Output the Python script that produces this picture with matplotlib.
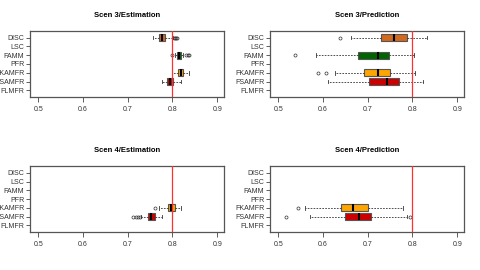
import numpy as np
import matplotlib
matplotlib.use('Agg')
from matplotlib import pyplot as plt

plt.rcParams['font.family'] = ['Liberation Sans', 'DejaVu Sans']

methods = ['DISC', 'LSC', 'FAMM', 'PFR', 'FKAMFR', 'FSAMFR', 'FLMFR']
colors = {'DISC': '#D2691E', 'FAMM': '#006400', 'FKAMFR': '#FFA500', 'FSAMFR': '#CD0000'}

# five number summaries: whislo, q1, med, q3, whishi
s3_est_groups = ['DISC', 'FAMM', 'FKAMFR', 'FSAMFR']
s3_est_stats = [[0.757, 0.770, 0.776, 0.783, 0.801],
                [0.806, 0.810, 0.815, 0.820, 0.824],
                [0.798, 0.812, 0.818, 0.824, 0.836],
                [0.776, 0.787, 0.794, 0.802, 0.820]]
s3_est_fliers = [[0.804, 0.806, 0.808, 0.810],
                 [0.798, 0.830, 0.834, 0.837],
                 [],
                 []]

s3_pred_groups = ['DISC', 'FAMM', 'FKAMFR', 'FSAMFR']
s3_pred_stats = [[0.663, 0.729, 0.759, 0.787, 0.832],
                 [0.585, 0.678, 0.723, 0.748, 0.803],
                 [0.627, 0.692, 0.722, 0.749, 0.806],
                 [0.611, 0.703, 0.742, 0.770, 0.824]]
s3_pred_fliers = [[0.637], [0.537], [0.588, 0.607], []]

s4_est_groups = ['FKAMFR', 'FSAMFR']
s4_est_stats = [[0.769, 0.790, 0.797, 0.805, 0.818],
                [0.730, 0.746, 0.752, 0.761, 0.776]]
s4_est_fliers = [[0.760], [0.712, 0.718, 0.722, 0.727]]

s4_pred_groups = ['FKAMFR', 'FSAMFR']
s4_pred_stats = [[0.560, 0.640, 0.666, 0.700, 0.778],
                 [0.570, 0.649, 0.680, 0.707, 0.787]]
s4_pred_fliers = [[0.545], [0.517, 0.795]]

panels = [('Scen 3/Estimation', s3_est_groups, s3_est_stats, s3_est_fliers),
          ('Scen 3/Prediction', s3_pred_groups, s3_pred_stats, s3_pred_fliers),
          ('Scen 4/Estimation', s4_est_groups, s4_est_stats, s4_est_fliers),
          ('Scen 4/Prediction', s4_pred_groups, s4_pred_stats, s4_pred_fliers)]

fig = plt.figure(figsize=(4.8, 2.7), dpi=100)
rects = [[0.0625, 0.641, 0.404, 0.244], [0.5625, 0.641, 0.404, 0.244],
         [0.0625, 0.1407, 0.404, 0.244], [0.5625, 0.1407, 0.404, 0.244]]

ypos = {m: len(methods) - i for i, m in enumerate(methods)}

for rect, (title, groups, stats, fliers) in zip(rects, panels):
    ax = fig.add_axes(rect)
    bxp_stats = []
    for g, s, f in zip(groups, stats, fliers):
        bxp_stats.append(dict(label=g, whislo=s[0], q1=s[1], med=s[2], q3=s[3], whishi=s[4], fliers=f))
    pos = [ypos[g] for g in groups]
    bp = ax.bxp(bxp_stats, positions=pos, vert=False, widths=0.8, patch_artist=True,
                capwidths=0.4, manage_ticks=False,
                boxprops=dict(edgecolor='#555555', linewidth=0.8),
                medianprops=dict(color='black', linewidth=1.5),
                whiskerprops=dict(color='#333333', linewidth=0.6, linestyle=(0, (2, 1.5))),
                capprops=dict(color='#333333', linewidth=0.6),
                flierprops=dict(marker='o', markersize=2.2, markerfacecolor='none',
                                markeredgecolor='#333333', markeredgewidth=0.5))
    for patch, g in zip(bp['boxes'], groups):
        patch.set_facecolor(colors[g])
    # reference line drawn over the boxes
    ax.axvline(0.8, color='#FF3030', linewidth=0.9, zorder=5)

    ax.set_xlim(0.4814, 0.915)
    ax.set_ylim(0.24, 7.76)
    ax.set_xticks([0.5, 0.6, 0.7, 0.8, 0.9])
    ax.set_xticklabels(['0.5', '0.6', '0.7', '0.8', '0.9'])
    ax.set_yticks([ypos[m] for m in methods])
    ax.set_yticklabels(methods)
    ax.tick_params(axis='x', length=3.5, width=0.6, color='#444444', labelsize=5,
                   labelcolor='#333333', pad=3)
    ax.tick_params(axis='y', length=3, width=0.6, color='#444444', labelsize=5,
                   labelcolor='#333333', pad=1)
    for sp in ax.spines.values():
        sp.set_color('#555555')
        sp.set_linewidth(0.9)
    ax.set_title(title, fontsize=5.5, fontweight='bold', pad=10)

fig.savefig('out.png', dpi=100)
